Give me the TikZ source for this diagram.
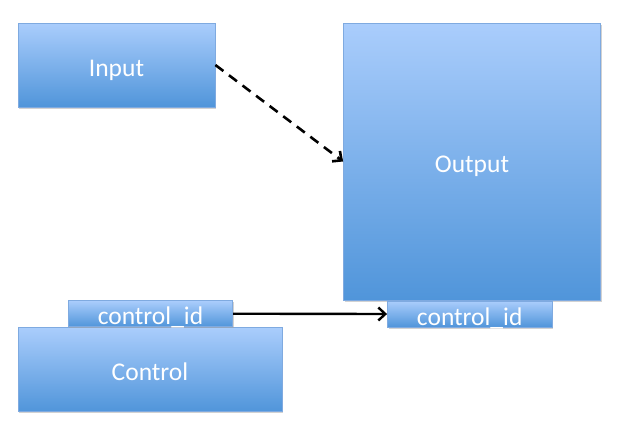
\documentclass[tikz,border=0pt]{standalone}
\usepackage{fontspec}
\setmainfont{Carlito}
\usetikzlibrary{shadows, arrows.meta}

\definecolor{boxtop}{HTML}{AACDFC}
\definecolor{boxbottom}{HTML}{5095DA}
\definecolor{boxline}{HTML}{7FAAE0}

\begin{document}
\begin{tikzpicture}[
    x=1pt,
    y=-1pt,
    >={Straight Barb[length=7pt, width=13pt]},
    block/.style={
        draw=boxline,
        line width=0.8pt,
        top color=boxtop,
        bottom color=boxbottom,
        drop shadow={shadow xshift=1.2pt, shadow yshift=-1.6pt, fill=black!35, opacity=0.5},
        inner sep=0pt,
        text height=22pt,
        text depth=0pt,
        align=center,
        text=white,
        font=\fontsize{25.5}{30}\selectfont
    },
    field/.style={
        block,
        minimum width=164.5pt,
        minimum height=26pt
    }
]

    % ==========================================
    % NODES PLACEMENT
    % ==========================================
    \useasboundingbox (0,0) rectangle (617,429);

    % Input (Top Left)
    \node[block, minimum width=197pt, minimum height=84pt] (Input) at (116.5, 65.0) {Input};

    % Output (Right, tall)
    \node[block, minimum width=257pt, minimum height=277pt] (Output) at (472.0, 161.5) {Output};

    % Control (Bottom Left)
    \node[block, minimum width=264pt, minimum height=84pt] (Control) at (150.0, 369.5) {Control};

    % Key fields
    \node[field] (ControlId) at (150.5, 313.7) {control\_id};
    \node[field] (OutputId) at (469.7, 314.0) {control\_id};

    % ==========================================
    % CONNECTIONS
    % ==========================================

    % Input to Output (dashed)
    \draw[->, line width=2.6pt, dash pattern=on 10pt off 7pt] (Input.east) -- (Output.west);

    % Control id to Output id
    \draw[->, line width=2.4pt] (ControlId.east) -- (OutputId.west);

\end{tikzpicture}
\end{document}
